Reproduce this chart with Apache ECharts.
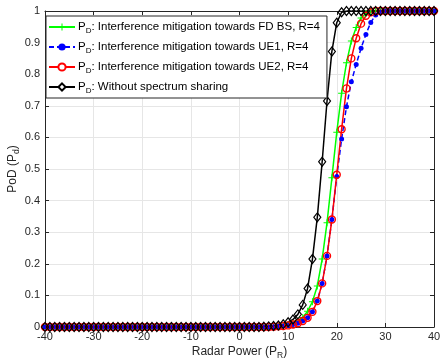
<!DOCTYPE html>
<html>
<head>
<meta charset="utf-8">
<script src="https://cdn.jsdelivr.net/npm/echarts@6/dist/echarts.min.js"></script>
<style>
  html, body { margin: 0; padding: 0; background: #fff; }
  #chart { width: 440px; height: 360px; }
</style>
</head>
<body>
<div id="chart"></div>
<script>
// Radar power sweep, one point per dB
const radarPower = [
  -40, -39, -38, -37, -36, -35, -34, -33, -32, -31,
  -30, -29, -28, -27, -26, -25, -24, -23, -22, -21,
  -20, -19, -18, -17, -16, -15, -14, -13, -12, -11,
  -10, -9, -8, -7, -6, -5, -4, -3, -2, -1,
  0, 1, 2, 3, 4, 5, 6, 7, 8, 9,
  10, 11, 12, 13, 14, 15, 16, 17, 18, 19,
  20, 21, 22, 23, 24, 25, 26, 27, 28, 29,
  30, 31, 32, 33, 34, 35, 36, 37, 38, 39, 40,
];

// PoD per series (same order as radarPower)
const podFdBs = [
  0, 0, 0, 0, 0, 0, 0, 0, 0, 0,
  0, 0, 0, 0, 0, 0, 0, 0, 0, 0,
  0, 0, 0, 0, 0, 0, 0, 0, 0, 0,
  0, 0, 0, 0, 0, 0, 0, 0, 0, 0,
  0, 0, 0, 0, 0, 0, 0, 0.001, 0.002, 0.004,
  0.007, 0.011, 0.018, 0.03, 0.05, 0.08, 0.13, 0.215, 0.33, 0.472,
  0.616, 0.74, 0.836, 0.905, 0.948, 0.978, 0.992, 0.998, 1, 1,
  1, 1, 1, 1, 1, 1, 1, 1, 1, 1, 1,
];
const podUe1 = [
  0, 0, 0, 0, 0, 0, 0, 0, 0, 0,
  0, 0, 0, 0, 0, 0, 0, 0, 0, 0,
  0, 0, 0, 0, 0, 0, 0, 0, 0, 0,
  0, 0, 0, 0, 0, 0, 0, 0, 0, 0,
  0, 0, 0, 0, 0, 0, 0, 0.001, 0.002, 0.003,
  0.005, 0.008, 0.012, 0.019, 0.029, 0.048, 0.082, 0.138, 0.225, 0.34,
  0.476, 0.595, 0.697, 0.776, 0.831, 0.882, 0.926, 0.964, 0.987, 0.997,
  1, 1, 1, 1, 1, 1, 1, 1, 1, 1, 1,
];
const podUe2 = [
  0, 0, 0, 0, 0, 0, 0, 0, 0, 0,
  0, 0, 0, 0, 0, 0, 0, 0, 0, 0,
  0, 0, 0, 0, 0, 0, 0, 0, 0, 0,
  0, 0, 0, 0, 0, 0, 0, 0, 0, 0,
  0, 0, 0, 0, 0, 0, 0, 0.001, 0.002, 0.003,
  0.005, 0.008, 0.012, 0.019, 0.029, 0.048, 0.082, 0.138, 0.225, 0.34,
  0.482, 0.626, 0.755, 0.85, 0.914, 0.96, 0.985, 0.996, 1, 1,
  1, 1, 1, 1, 1, 1, 1, 1, 1, 1, 1,
];
const podNoSharing = [
  0, 0, 0, 0, 0, 0, 0, 0, 0, 0,
  0, 0, 0, 0, 0, 0, 0, 0, 0, 0,
  0, 0, 0, 0, 0, 0, 0, 0, 0, 0,
  0, 0, 0, 0, 0, 0, 0, 0, 0, 0,
  0, 0, 0, 0, 0, 0.001, 0.002, 0.003, 0.005, 0.009,
  0.015, 0.024, 0.04, 0.07, 0.122, 0.215, 0.347, 0.523, 0.715, 0.872,
  0.963, 0.996, 1, 1, 1, 1, 1, 1, 1, 1,
  1, 1, 1, 1, 1, 1, 1, 1, 1, 1, 1,
];

const seriesNames = [
  "Interference mitigation towards FD BS, R=4",
  "Interference mitigation towards UE1, R=4",
  "Interference mitigation towards UE2, R=4",
  "Without spectrum sharing",
];

const INK = "#262626";
const GRID = "#e6e6e6";
const FONT = "'Liberation Sans', Arial, Helvetica, sans-serif";
const PLUS = "path://M4.3,0 L5.7,0 L5.7,4.3 L10,4.3 L10,5.7 L5.7,5.7 L5.7,10 L4.3,10 L4.3,5.7 L0,5.7 L0,4.3 L4.3,4.3 Z";
const CLEAR = "rgba(0,0,0,0)";

const pairs = (ys) => radarPower.map((x, i) => [x, ys[i]]);

const chart = echarts.init(document.getElementById("chart"), null, { renderer: "canvas" });

const subRich = {
  p: { fontSize: 11.5, color: "#000", fontFamily: FONT },
  s: { fontSize: 8, color: "#000", fontFamily: FONT, padding: [8, 0, 0, 0] },
};
const nameRich = {
  p: { fontSize: 12, color: INK, fontFamily: FONT },
  s: { fontSize: 8.5, color: INK, fontFamily: FONT, padding: [8, 0, 0, 0] },
};

// boxed axis (MATLAB "box on"): inward ticks, no zero crossing
const axisBase = {
  axisLine: { show: true, onZero: false, lineStyle: { color: INK, width: 1 } },
  axisTick: { show: true, inside: true, length: 4, lineStyle: { color: INK } },
};

function line(name, ys, color, symbol, size, extra) {
  return Object.assign({
    name,
    type: "line",
    data: pairs(ys),
    symbol,
    symbolSize: size,
    showAllSymbol: true,
    lineStyle: { width: 1.5, color },
    itemStyle: { color, borderColor: color, borderWidth: 1.3 },
    emphasis: { disabled: true },
    animation: false,
  }, extra || {});
}

chart.setOption({
  backgroundColor: "#fff",
  textStyle: { fontFamily: FONT },
  grid: { left: 45, right: 6, top: 11, bottom: 33, outerBoundsMode: "none", containLabel: false },
  legend: {
    left: 46,
    top: 16,
    orient: "vertical",
    itemWidth: 26,
    itemHeight: 9,
    itemGap: 6,
    padding: [5, 7, 3, 2],
    backgroundColor: "#fff",
    borderColor: "#262626",
    borderWidth: 1,
    selectedMode: false,
    textStyle: { fontFamily: FONT, rich: subRich, padding: [0, 0, 0, -2] },
    formatter: (name) => "{p|P}{s|D}{p|: " + name + "}",
    data: [
      { name: seriesNames[0] },
      { name: seriesNames[1] },
      { name: seriesNames[2], itemStyle: { color: "#fff" } },
      { name: seriesNames[3], itemStyle: { color: "#fff" } },
    ],
  },
  xAxis: [
    Object.assign({
      type: "value",
      min: -40,
      max: 40,
      interval: 10,
      name: "{p|Radar Power (P}{s|R}{p|)}",
      nameLocation: "middle",
      nameGap: 16,
      nameMoveOverlap: false,
      nameTextStyle: { rich: nameRich },
      axisLabel: { color: INK, fontSize: 11, margin: 4 },
      splitLine: { show: true, lineStyle: { color: GRID } },
    }, axisBase),
    Object.assign({
      type: "value",
      position: "top",
      min: -40,
      max: 40,
      interval: 10,
      axisLabel: { show: false },
      splitLine: { show: false },
    }, axisBase),
  ],
  yAxis: [
    Object.assign({
      type: "value",
      min: 0,
      max: 1,
      interval: 0.1,
      name: "{p|PoD (P}{s|d}{p|)}",
      nameLocation: "middle",
      nameGap: 24,
      nameMoveOverlap: false,
      nameTextStyle: { rich: nameRich },
      axisLabel: { color: INK, fontSize: 11, margin: 5 },
      splitLine: { show: true, lineStyle: { color: GRID } },
    }, axisBase),
    Object.assign({
      type: "value",
      position: "right",
      min: 0,
      max: 1,
      interval: 0.1,
      axisLabel: { show: false },
      splitLine: { show: false },
    }, axisBase),
  ],
  series: [
    line(seriesNames[0], podFdBs, "#00ff00", PLUS, 7, {
      itemStyle: { color: "#00ff00", borderWidth: 0 },
    }),
    line(seriesNames[1], podUe1, "#0000ff", "circle", 5, {
      lineStyle: { width: 1.5, color: "#0000ff", type: [5, 3] },
      itemStyle: { color: "#0000ff", borderWidth: 0 },
    }),
    line(seriesNames[2], podUe2, "#ff0000", "circle", 7, {
      itemStyle: { color: CLEAR, borderColor: "#ff0000", borderWidth: 1.4 },
    }),
    line(seriesNames[3], podNoSharing, "#000000", "diamond", [7, 9], {
      itemStyle: { color: CLEAR, borderColor: "#000000", borderWidth: 1.2 },
    }),
  ],
});
</script>
</body>
</html>
